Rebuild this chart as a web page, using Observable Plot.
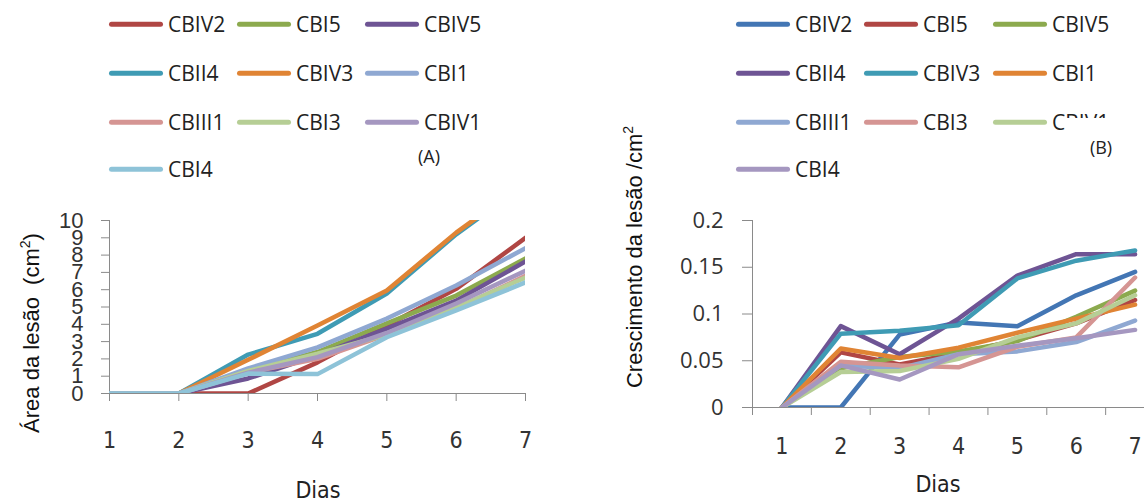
<!DOCTYPE html>
<html>
<head>
<meta charset="utf-8">
<script src="https://cdn.jsdelivr.net/npm/d3@7"></script>
<script src="https://cdn.jsdelivr.net/npm/@observablehq/plot@0.6"></script>
<style>
  html, body { margin: 0; padding: 0; background: #fff; }
  #root { position: relative; width: 1144px; height: 504px; overflow: hidden; background: #fff; color: #222; }
  .abs { position: absolute; }
  .sw { position: absolute; height: 4.5px; width: 54px; border-radius: 3px; transform: translateY(-50%); }
  .lt { position: absolute; font-family: "Open Sans", sans-serif; font-size: 21px; line-height: 1; transform: translateY(-50%); white-space: nowrap; color: #222; }
  .ytitle { position: absolute; font-family: "Liberation Sans", Arial, sans-serif; font-size: 22px; white-space: nowrap; transform: translate(-50%, -50%) rotate(-90deg); color: #111; }
  .ytitle sup { font-size: 14px; }
  .xtitle { position: absolute; font-family: "DejaVu Sans Condensed", "Liberation Sans", sans-serif; font-size: 23px; line-height: 1; transform: translate(-50%, -50%); color: #222; }
  .tag { position: absolute; font-family: "Open Sans", sans-serif; font-size: 18px; transform: translate(-50%, -50%); color: #222; }
  #left, #right { position: absolute; top: 200px; }
  #left { left: 0; width: 560px; }
  #right { left: 560px; width: 604px; }
  #left svg, #right svg { max-width: none !important; overflow: visible; }
  #left g[aria-label="y-axis tick label"] text { font-family: "Liberation Sans", Arial, sans-serif; font-size: 22px; fill: #333; }
  #right g[aria-label="y-axis tick label"] text { font-family: "Open Sans", sans-serif; font-size: 22px; fill: #333; }
  #left g[aria-label="x-axis tick label"] text, #right g[aria-label="x-axis tick label"] text { font-family: "DejaVu Sans Condensed", "Liberation Sans", sans-serif; font-size: 23px; fill: #333; }
</style>
</head>
<body>
<div id="root">
  <div id="left"></div>
  <div id="right"></div>
</div>
<script>
// ---------- data ----------
const days = [1, 2, 3, 4, 5, 6, 7];

// Chart A: Área da lesão (cm²)
const seriesA = ["CBIV2", "CBI5", "CBIV5", "CBII4", "CBIV3", "CBI1", "CBIII1", "CBI3", "CBIV1", "CBI4"];
const areaCBIV2  = [0, 0, 0,    1.8,  3.93, 6.05, 9.0];
const areaCBI5   = [0, 0, 1.3,  2.4,  4.05, 5.66, 7.8];
const areaCBIV5  = [0, 0, 0.87, 2.2,  3.75, 5.37, 7.63];
const areaCBII4  = [0, 0, 2.25, 3.45, 5.78, 9.2,  12.1];
const areaCBIV3  = [0, 0, 1.95, 3.93, 5.95, 9.3,  12.2];
const areaCBI1   = [0, 0, 1.45, 2.67, 4.33, 6.24, 8.4];
const areaCBIII1 = [0, 0, 1.2,  2.0,  3.4,  4.9,  6.8];
const areaCBI3   = [0, 0, 1.3,  2.3,  3.4,  4.97, 6.7];
const areaCBIV1  = [0, 0, 1.2,  2.1,  3.5,  5.2,  7.1];
const areaCBI4   = [0, 0, 1.15, 1.12, 3.25, 4.8,  6.42];
const valuesA = [areaCBIV2, areaCBI5, areaCBIV5, areaCBII4, areaCBIV3, areaCBI1, areaCBIII1, areaCBI3, areaCBIV1, areaCBI4];
const yTicksA = [0, 1, 2, 3, 4, 5, 6, 7, 8, 9, 10];

// Chart B: Crescimento da lesão /cm²
const seriesB = ["CBIV2", "CBI5", "CBIV5", "CBII4", "CBIV3", "CBI1", "CBIII1", "CBI3", "CBIV1", "CBI4"];
const growCBIV2  = [0, 0,     0.078, 0.091, 0.087, 0.120, 0.145];
const growCBI5   = [0, 0.059, 0.046, 0.058, 0.072, 0.090, 0.115];
const growCBIV5  = [0, 0.042, 0.054, 0.060, 0.071, 0.097, 0.125];
const growCBII4  = [0, 0.087, 0.057, 0.095, 0.141, 0.164, 0.164];
const growCBIV3  = [0, 0.079, 0.082, 0.088, 0.138, 0.157, 0.168];
const growCBI1   = [0, 0.063, 0.053, 0.064, 0.080, 0.095, 0.110];
const growCBIII1 = [0, 0.045, 0.042, 0.057, 0.060, 0.070, 0.093];
const growCBI3   = [0, 0.049, 0.045, 0.043, 0.065, 0.075, 0.139];
const growCBIV1  = [0, 0.038, 0.039, 0.052, 0.075, 0.090, 0.120];
const growCBI4   = [0, 0.045, 0.030, 0.057, 0.066, 0.074, 0.083];
const valuesB = [growCBIV2, growCBI5, growCBIV5, growCBII4, growCBIV3, growCBI1, growCBIII1, growCBI3, growCBIV1, growCBI4];
const yTicksB = [0, 0.05, 0.1, 0.15, 0.2];
const xTickMarksB = [0.5, 1.5, 2.5, 3.5, 4.5, 5.5, 6.5, 7.5];

// palette (Excel style)
const colorsA = ["#B04644", "#8CAA4E", "#6E5494", "#3F9BB4", "#E08434", "#8FA8D2", "#D59593", "#B6CE95", "#A597C0", "#8EC3D8"];
const colorsB = ["#4376B4", "#B04644", "#8CAA4E", "#6E5494", "#3F9BB4", "#E08434", "#8FA8D2", "#D59593", "#B6CE95", "#A597C0"];

// ---------- build ----------
const tableA = seriesA.flatMap((s, i) => days.map((d, j) => ({series: s, day: d, value: valuesA[i][j]})));
const tableB = seriesB.flatMap((s, i) => days.map((d, j) => ({series: s, day: d, value: valuesB[i][j]})));

const axisGray = "#8a8a8a";

const plotA = Plot.plot({
  width: 560, height: 300,
  marginLeft: 109, marginRight: 35, marginTop: 20, marginBottom: 107,
  x: {domain: [1, 7]},
  y: {domain: [0, 10]},
  color: {domain: seriesA, range: colorsA},
  style: {background: "transparent", overflow: "visible"},
  marks: [
    Plot.axisY({ticks: yTicksA, tickSize: 8, tickPadding: 18, label: null, stroke: axisGray}),
    Plot.axisX({ticks: days, tickSize: 8, tickPadding: 30, label: null, stroke: axisGray, tickFormat: d => String(d)}),
    Plot.ruleX([1], {y1: 0, y2: 10, stroke: axisGray}),
    Plot.ruleY([0], {x1: 1, x2: 7, stroke: axisGray}),
    Plot.line(tableA, {x: "day", y: "value", z: "series", stroke: "series", strokeWidth: 4.5,
      strokeLinejoin: "round", strokeLinecap: "round", clip: true})
  ]
});
document.getElementById("left").appendChild(plotA);

const plotB = Plot.plot({
  width: 604, height: 300,
  marginLeft: 192, marginRight: 0, marginTop: 20, marginBottom: 93,
  x: {domain: [0.5, 7.5]},
  y: {domain: [0, 0.2]},
  color: {domain: seriesB, range: colorsB},
  style: {background: "transparent", overflow: "visible"},
  marks: [
    Plot.axisY({ticks: yTicksB, tickSize: 10, tickPadding: 19, label: null, stroke: axisGray, tickFormat: d => String(d)}),
    Plot.axisX({ticks: xTickMarksB, tickSize: 8, tickFormat: () => "", label: null, stroke: axisGray}),
    Plot.axisX({ticks: days, tickSize: 0, tickPadding: 30, label: null, tickFormat: d => String(d)}),
    Plot.ruleX([0.5], {y1: 0, y2: 0.2, stroke: axisGray}),
    Plot.ruleY([0], {x1: 0.5, x2: 7.5, stroke: axisGray}),
    Plot.line(tableB, {x: "day", y: "value", z: "series", stroke: "series", strokeWidth: 4.5,
      strokeLinejoin: "round", strokeLinecap: "round", clip: true})
  ]
});
document.getElementById("right").appendChild(plotB);

// ---------- legends & titles (HTML) ----------
const root = document.getElementById("root");
function add(cls, html, style) {
  const el = document.createElement("div");
  el.className = cls;
  el.innerHTML = html;
  Object.assign(el.style, style);
  root.appendChild(el);
  return el;
}
const rowsY = [24, 73, 122, 169];
function legend(series, colors, swX, txX) {
  series.forEach((s, i) => {
    const r = Math.floor(i / 3), c = i % 3;
    add("sw", "", {left: swX[c] + "px", top: rowsY[r] + "px", background: colors[i]});
    add("lt", s, {left: txX[c] + "px", top: rowsY[r] + "px"});
  });
}
legend(seriesA, colorsA, [109, 237, 365], [168, 296, 424]);
legend(seriesB, colorsB, [736, 864, 993], [795, 923, 1052]);

add("tag", "(A)", {left: "429px", top: "156px"});
// white box (text frame) overlapping the last legend label of chart B
add("abs", "", {left: "1065px", top: "118px", width: "79px", height: "46px", background: "#fff"});
add("tag", "(B)", {left: "1101px", top: "147px"});

add("ytitle", "Área da lesão&nbsp;&nbsp;(cm<sup>2</sup>)", {left: "31px", top: "333px"});
add("ytitle", "Crescimento da lesão /cm<sup>2</sup>", {left: "634px", top: "257px"});
add("xtitle", "Dias", {left: "318px", top: "490px"});
add("xtitle", "Dias", {left: "938px", top: "484px"});
</script>
</body>
</html>
